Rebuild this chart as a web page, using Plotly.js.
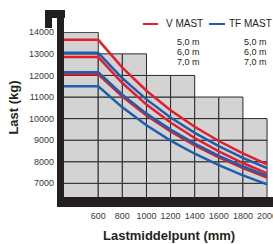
<!DOCTYPE html>
<html>
<head>
<meta charset="utf-8">
<script src="https://cdn.plot.ly/plotly-3.0.1.min.js"></script>
<style>html,body{margin:0;padding:0;background:#fff;}#chart{width:273px;height:244px;}</style>
</head>
<body>
<div id="chart"></div>
<script>
// Load centre (mm)
const loadCentre = [300, 600, 800, 1000, 1200, 1400, 1600, 1800, 2000];
// Capacity (kg) – V MAST
const vMast50 = [13650, 13650, 12360, 11290, 10390, 9620, 8960, 8390, 7880];
const vMast60 = [12850, 12850, 11650, 10650, 9820, 9100, 8480, 7940, 7460];
const vMast70 = [12050, 12050, 11020, 10140, 9400, 8760, 8200, 7710, 7270];
// Capacity (kg) – TF MAST
const tfMast50 = [13050, 13050, 11870, 10890, 10050, 9340, 8720, 8180, 7700];
const tfMast60 = [12150, 12150, 11110, 10230, 9490, 8840, 8270, 7780, 7340];
const tfMast70 = [11500, 11500, 10520, 9690, 8980, 8370, 7840, 7370, 6950];
// Mast heights
const mastHeights = ['5,0 m', '6,0 m', '7,0 m'];
// Tick labels
const xTicks = [600, 800, 1000, 1200, 1400, 1600, 1800, 2000];
const yTicks = [7000, 8000, 9000, 10000, 11000, 12000, 13000, 14000];
// Stepped grey background grid
const gridColEdges = [300, 600, 800, 1000, 1200, 1400, 1600, 1800, 2000];
const gridColTops = [14000, 13000, 13000, 12000, 12000, 11000, 11000, 10000];
const gridRowEdges = [6000, 7000, 8000, 9000, 10000, 11000, 12000, 13000, 14000];

const RED = '#e31e2d', BLUE = '#1c5fae', BLACK = '#231f20';
const lw = 2.5;
function tr(y, c, name) {
  return {x: loadCentre, y: y, type: 'scatter', mode: 'lines', name: name,
          line: {color: c, width: lw}, showlegend: false, hoverinfo: 'skip'};
}
const data = [
  tr(tfMast70, BLUE, 'TF MAST 7,0 m'),
  tr(vMast70, RED, 'V MAST 7,0 m'),
  tr(tfMast60, BLUE, 'TF MAST 6,0 m'),
  tr(vMast60, RED, 'V MAST 6,0 m'),
  tr(tfMast50, BLUE, 'TF MAST 5,0 m'),
  tr(vMast50, RED, 'V MAST 5,0 m')
];

const shapes = [];
for (let i = 0; i < gridColTops.length; i++) {
  for (let j = 0; j < gridRowEdges.length - 1; j++) {
    if (gridRowEdges[j + 1] > gridColTops[i]) break;
    shapes.push({type: 'rect', xref: 'x', yref: 'y', layer: 'below',
      x0: gridColEdges[i], x1: gridColEdges[i + 1], y0: gridRowEdges[j], y1: gridRowEdges[j + 1],
      fillcolor: '#d3d3d3', line: {color: '#2a2a2a', width: 1}});
  }
}
// black frame
const frame = [
  [-0.0343, 0, -0.0606, 1.0848],
  [-0.0343, 1.06, -0.0606, 0],
  [-0.0931, 0.0049, 1.0848, 1.1333],
  [-0.0931, -0.0588, 1.0242, 1.0848]
];
frame.forEach(f => shapes.push({type: 'rect', xref: 'paper', yref: 'paper', layer: 'above',
  x0: f[0], x1: f[1], y0: f[2], y1: f[3], fillcolor: BLACK, line: {width: 0}}));
// legend line samples
shapes.push({type: 'line', xref: 'paper', yref: 'paper', x0: 0.387, x1: 0.461, y0: 1.0485, y1: 1.0485, line: {color: RED, width: 2}});
shapes.push({type: 'line', xref: 'paper', yref: 'paper', x0: 0.711, x1: 0.789, y0: 1.0485, y1: 1.0485, line: {color: BLUE, width: 2}});

const lf = {family: 'Liberation Sans, Arial, sans-serif', size: 10, color: BLACK};
const hf = {family: 'Liberation Sans, Arial, sans-serif', size: 9, color: BLACK};
const annotations = [
  {text: 'V MAST', x: 0.490, y: 1.0485, xanchor: 'left', yanchor: 'middle'},
  {text: 'TF MAST', x: 0.799, y: 1.0485, xanchor: 'left', yanchor: 'middle'}
].map(a => Object.assign(a, {xref: 'paper', yref: 'paper', showarrow: false, font: lf}));
const hy = [0.942, 0.881, 0.820];
mastHeights.forEach((h, k) => {
  [0.6716, 0.9985].forEach(xx => annotations.push({text: h, x: xx, y: hy[k], xref: 'paper', yref: 'paper',
    xanchor: 'right', yanchor: 'middle', showarrow: false, font: hf, borderpad: 0}));
});
const tf = {family: 'Liberation Sans Narrow, Arial Narrow, sans-serif', size: 13, color: BLACK, weight: 'bold'};
annotations.push({text: '<b>Last (kg)</b>', x: -0.245, y: 0.542, xref: 'paper', yref: 'paper', textangle: -90,
  xanchor: 'center', yanchor: 'middle', showarrow: false, font: tf});
annotations.push({text: '<b>Lastmiddelpunt (mm)</b>', x: 0.515, y: -0.236, xref: 'paper', yref: 'paper',
  xanchor: 'center', yanchor: 'middle', showarrow: false, font: tf});

const tickFont = {family: 'Liberation Sans Narrow, Arial Narrow, sans-serif', size: 9, color: '#3a3a3a'};
const layout = {
  width: 273, height: 244,
  margin: {l: 64, r: 5, t: 32, b: 47, pad: 0},
  paper_bgcolor: '#fff', plot_bgcolor: 'rgba(0,0,0,0)',
  showlegend: false,
  xaxis: {range: [316, 2008], tickvals: xTicks, ticktext: xTicks.map(String), showgrid: false, zeroline: false,
          showline: false, ticks: '', tickfont: tickFont, ticklabelstandoff: 12, ticklabeloverflow: 'allow',
          fixedrange: true},
  yaxis: {range: [6365, 14014], tickvals: yTicks, ticktext: yTicks.map(String), showgrid: false, zeroline: false,
          showline: false, ticks: '', tickfont: tickFont, ticklabelstandoff: 9, fixedrange: true},
  shapes: shapes,
  annotations: annotations
};
Plotly.newPlot('chart', data, layout, {displayModeBar: false, staticPlot: true});
</script>
</body>
</html>
